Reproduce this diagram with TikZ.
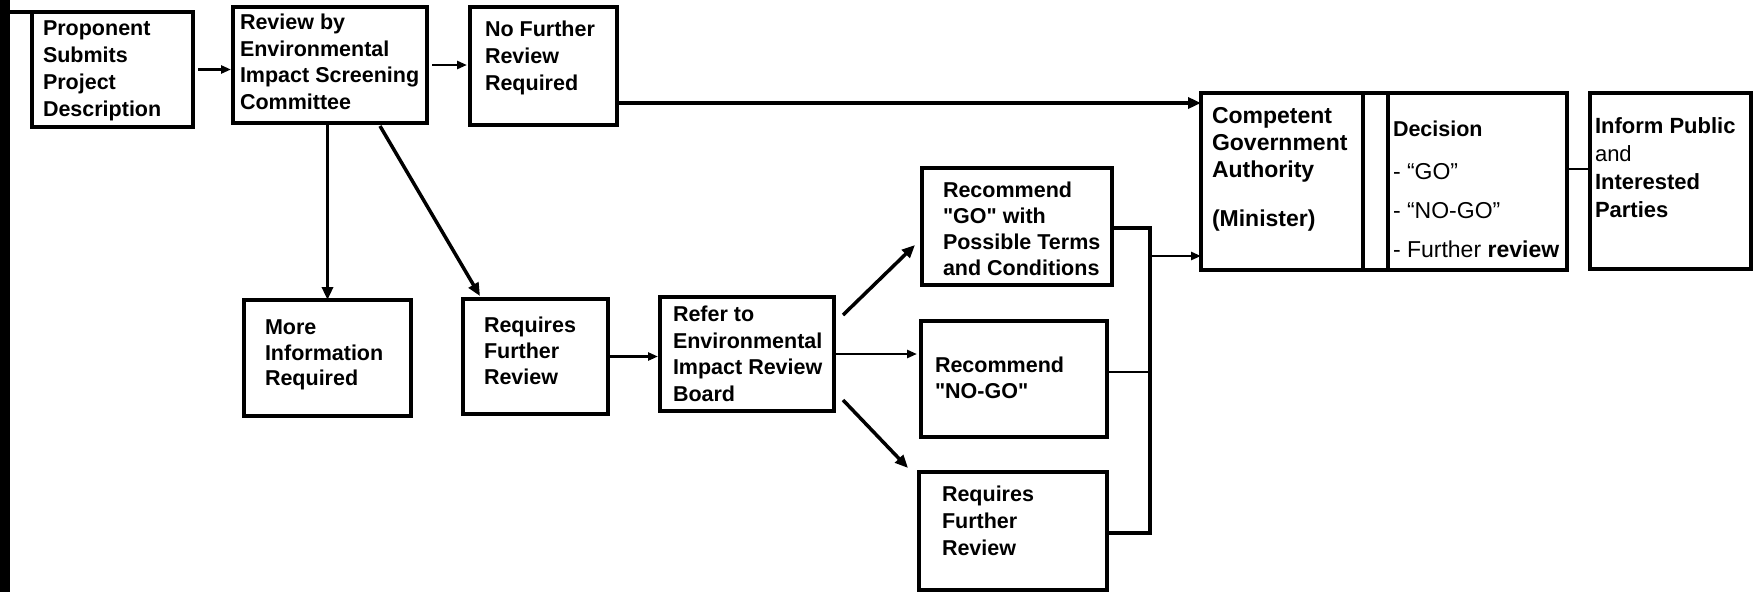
\documentclass[tikz,border=0pt]{standalone}
\usepackage{fontspec}
\setmainfont{Liberation Sans}[Ligatures=TeXOff]
\usetikzlibrary{arrows.meta,calc}
\begin{document}
\begin{tikzpicture}[x=1pt,y=-1pt,
  box/.style={draw, line width=3.5pt, anchor=north west, inner sep=0pt, outer sep=0pt},
  txt/.style={anchor=north west, inner sep=0pt, outer sep=0pt, align=left, font=\bfseries\fontsize{21.5}{25.5}\selectfont},
  arr/.style={line width=3.5pt, -{Triangle[length=13pt,width=11pt]}},
  sarr/.style={line width=2.8pt, -{Triangle[length=10pt,width=8pt]}},
  thinline/.style={line width=2.2pt},
  brace/.style={line width=4pt, line join=miter}
]
\useasboundingbox (0,0) rectangle (1753,592);
% left bar
\node[fill, draw=none, minimum width=10pt, minimum height=592pt, anchor=north west, inner sep=0pt] (bar) at (0,0) {};
% boxes
\node[box, minimum width=161pt, minimum height=115pt] (b1) at (32,12) {};
\node[box, minimum width=194pt, minimum height=116pt] (b2) at (233,7) {};
\node[box, minimum width=147pt, minimum height=118pt] (b3) at (470,7) {};
\node[box, minimum width=167pt, minimum height=116pt] (more) at (244,300) {};
\node[box, minimum width=145pt, minimum height=115pt] (req1) at (463,299) {};
\node[box, minimum width=174pt, minimum height=114pt] (refer) at (660,297) {};
\node[box, minimum width=190pt, minimum height=117pt] (go) at (922,168) {};
\node[box, minimum width=186pt, minimum height=116pt] (nogo) at (921,321) {};
\node[box, minimum width=188pt, minimum height=118pt] (req2) at (919,472) {};
\node[box, minimum width=162pt, minimum height=177pt] (comp) at (1201,93) {};
\node[box, minimum width=179pt, minimum height=177pt] (dec) at (1388,93) {};
\node[box, minimum width=161pt, minimum height=176pt] (inf) at (1590,93) {};
% texts
\node[txt, font=\bfseries\fontsize{21.5}{27}\selectfont] (t1) at (43,21) {Proponent\\Submits\\Project\\Description};
\node[txt, font=\bfseries\fontsize{21.5}{26.5}\selectfont] (t2) at (240,14) {Review by\\Environmental\\Impact Screening\\Committee};
\node[txt, font=\bfseries\fontsize{21.5}{27}\selectfont] (t3) at (485,21) {No Further\\Review\\Required};
\node[txt] (tmore) at (265,320) {More\\Information\\Required};
\node[txt, font=\bfseries\fontsize{21.5}{26}\selectfont] (treq1) at (484,317) {Requires\\Further\\Review};
\node[txt, font=\bfseries\fontsize{21.5}{26.5}\selectfont] (trefer) at (673,306) {Refer to\\Environmental\\Impact Review\\Board};
\node[txt, font=\bfseries\fontsize{21.5}{26}\selectfont] (tgo) at (943,182) {Recommend\\"GO" with\\Possible Terms\\and Conditions};
\node[txt, font=\bfseries\fontsize{21.5}{26}\selectfont] (tnogo) at (935,357) {Recommend\\"NO-GO"};
\node[txt, font=\bfseries\fontsize{21.5}{27}\selectfont] (treq2) at (942,486) {Requires\\Further\\Review};
\node[txt, font=\bfseries\fontsize{23}{27}\selectfont] (tcomp) at (1212,107) {Competent\\Government\\Authority\\[22pt](Minister)};
\node[txt] (tdec) at (1393,121) {Decision};
\node[txt, font=\mdseries\fontsize{23}{39}\selectfont] (tlist) at (1393,163) {- “GO”\\- “NO-GO”\\- Further \textbf{review}};
\node[txt, font=\bfseries\fontsize{22}{28}\selectfont] (tinf) at (1595,118) {Inform Public\\{\mdseries and}\\Interested\\Parties};
% connectors
\draw[line width=3.5pt] (bar.east |- b1.north) -- (b1.north west);
\draw[sarr, shorten <=5pt, shorten >=2pt] (b1.east) -- (b1.east -| b2.west);
\draw[sarr, shorten <=5pt, shorten >=3pt] (b2.east) -- (b2.east -| b3.west);
\coordinate (yA) at (0,103);
\draw[arr] (b3.east |- yA) -- (comp.west |- yA);
\draw[arr] (more.north |- b2.south) -- (more.north);
\draw[arr] ($(b2.south west)+(147,3)$) -- ($(req1.north west)+(17,-3)$);
\draw[sarr, shorten >=2pt] (req1.east) -- (req1.east -| refer.west);
\draw[arr] ($(refer.north east)+(9,18)$) -- ($(go.south west)+(-7,-40)$);
\draw[sarr, shorten <=2pt, shorten >=4pt] (refer.east) -- (refer.east -| nogo.west);
\draw[arr] ($(refer.south east)+(9,-11)$) -- ($(req2.north west)+(-11,-4)$);
\coordinate (kt) at (1150,228);
\coordinate (kb) at (1150,533);
\coordinate (km) at (1150,256);
\coordinate (kn) at (1150,372);
\draw[brace] (go.east |- kt) -- (kt) -- (kb) -- (req2.east |- kb);
\draw[thinline] (nogo.east |- kn) -- (kn);
\draw[sarr] (km) -- (comp.west |- km);
\draw[line width=3.5pt] (comp.north east) -- (dec.north west) (comp.south east) -- (dec.south west);
\coordinate (kd) at (0,169);
\draw[thinline] (dec.east |- kd) -- (inf.west |- kd);
\end{tikzpicture}
\end{document}
